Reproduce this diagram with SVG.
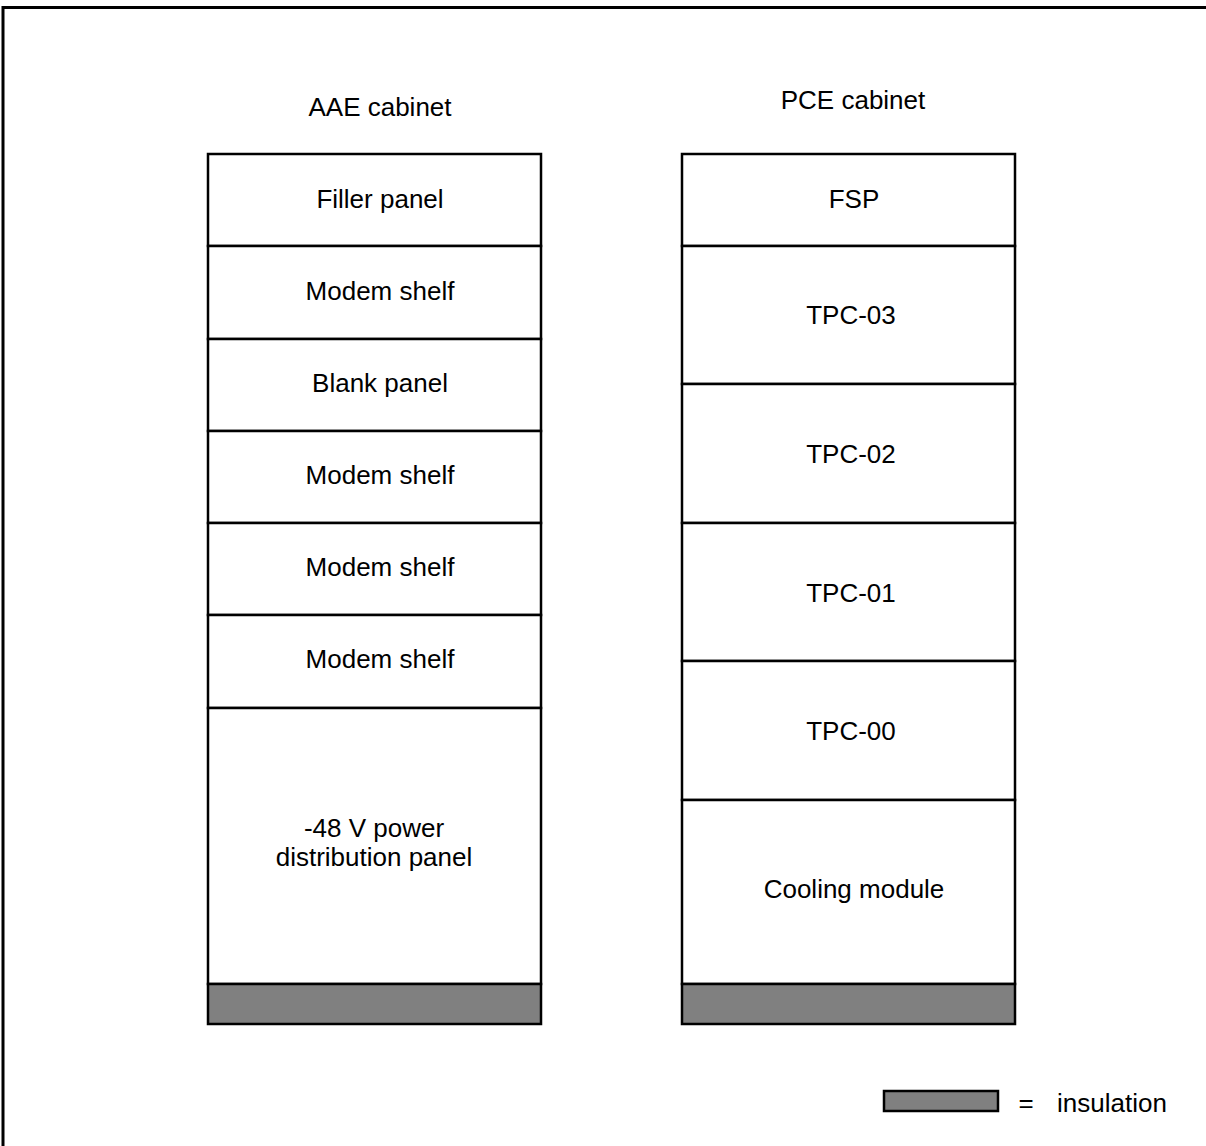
<svg xmlns="http://www.w3.org/2000/svg" width="1206" height="1146" viewBox="0 0 1206 1146">
<style>
.b{fill:#fff;stroke:#000;stroke-width:2.5}
.ins{fill:#808080;stroke:#000;stroke-width:2.5}
.t{font-family:"Liberation Sans",Arial,sans-serif;font-size:26px;fill:#000;text-anchor:middle}
</style>
<rect width="1206" height="1146" fill="#fff"/>
<path d="M3,1146 V7.5 H1206" fill="none" stroke="#000" stroke-width="3"/>
<text class="t" x="380" y="116">AAE cabinet</text>
<text class="t" x="853" y="109">PCE cabinet</text>
<g id="aae">
<g id="aae-filler"><rect class="b" x="208" y="154" width="333" height="92"/><text class="t" x="380" y="208">Filler panel</text></g>
<g id="aae-modem1"><rect class="b" x="208" y="246" width="333" height="93"/><text class="t" x="380" y="300">Modem shelf</text></g>
<g id="aae-blank"><rect class="b" x="208" y="339" width="333" height="92"/><text class="t" x="380" y="392">Blank panel</text></g>
<g id="aae-modem2"><rect class="b" x="208" y="431" width="333" height="92"/><text class="t" x="380" y="484">Modem shelf</text></g>
<g id="aae-modem3"><rect class="b" x="208" y="523" width="333" height="92"/><text class="t" x="380" y="576">Modem shelf</text></g>
<g id="aae-modem4"><rect class="b" x="208" y="615" width="333" height="93"/><text class="t" x="380" y="668">Modem shelf</text></g>
<g id="aae-power"><rect class="b" x="208" y="708" width="333" height="276"/><text class="t" x="374" y="837">-48 V power</text><text class="t" x="374" y="866">distribution panel</text></g>
<g id="aae-insulation"><rect class="ins" x="208" y="984" width="333" height="40"/></g>
</g>
<g id="pce">
<g id="pce-fsp"><rect class="b" x="682" y="154" width="333" height="92"/><text class="t" x="854" y="208">FSP</text></g>
<g id="pce-tpc03"><rect class="b" x="682" y="246" width="333" height="138"/><text class="t" x="851" y="324">TPC-03</text></g>
<g id="pce-tpc02"><rect class="b" x="682" y="384" width="333" height="139"/><text class="t" x="851" y="463">TPC-02</text></g>
<g id="pce-tpc01"><rect class="b" x="682" y="523" width="333" height="138"/><text class="t" x="851" y="602">TPC-01</text></g>
<g id="pce-tpc00"><rect class="b" x="682" y="661" width="333" height="139"/><text class="t" x="851" y="740">TPC-00</text></g>
<g id="pce-cooling"><rect class="b" x="682" y="800" width="333" height="184"/><text class="t" x="854" y="898">Cooling module</text></g>
<g id="pce-insulation"><rect class="ins" x="682" y="984" width="333" height="40"/></g>
</g>
<g id="legend">
<rect class="ins" x="884" y="1091" width="114" height="20"/>
<text class="t" x="1026" y="1112">=</text>
<text class="t" x="1057" y="1112" style="text-anchor:start">insulation</text>
</g>
<g id="connectors"/>
</svg>
